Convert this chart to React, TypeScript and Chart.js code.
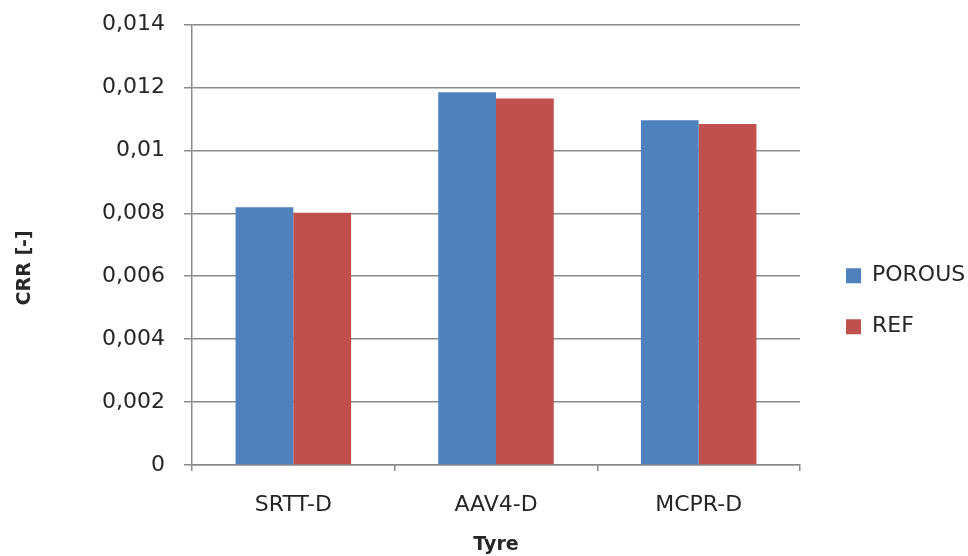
import React, { useEffect, useRef } from "react";
import { Chart, registerables } from "chart.js";

Chart.register(...registerables);

// Tyres tested and rolling resistance coefficients per surface
const tyres = ["SRTT-D", "AAV4-D", "MCPR-D"];
const porous = [0.00819, 0.01185, 0.01096];
const ref = [0.00802, 0.01165, 0.01084];

const seriesNames = ["POROUS", "REF"];
const seriesColors = ["#4F81BD", "#C0504D"];

const yMin = 0;
const yMax = 0.014;
const yStep = 0.002;

const xTitle = "Tyre";
const yTitle = "CRR [-]";

const FONT = "'DejaVu Sans', sans-serif";
const TEXT = "#262626";
const GRID = "#8a8a8a";

// nudges the right-hand legend block next to the plot
const legendOffset = {
  id: "legendOffset",
  afterLayout(chart: any) {
    const lg = chart.legend;
    if (!lg) return;
    lg.left += 17;
    lg.right += 17;
    lg.top += 11;
    lg.bottom += 11;
  },
};

const formatTick = (v: number) =>
  parseFloat(Number(v).toFixed(3)).toString().replace(".", ",");

export default function App() {
  const canvasRef = useRef<HTMLCanvasElement | null>(null);

  useEffect(() => {
    if (!canvasRef.current) return;
    const chart = new Chart(canvasRef.current, {
      type: "bar",
      data: {
        labels: tyres,
        datasets: [
          {
            label: seriesNames[0],
            data: porous,
            backgroundColor: seriesColors[0],
            borderWidth: 0,
          },
          {
            label: seriesNames[1],
            data: ref,
            backgroundColor: seriesColors[1],
            borderWidth: 0,
          },
        ],
      },
      options: {
        animation: false,
        responsive: true,
        maintainAspectRatio: false,
        layout: { padding: { top: 24.5, right: 18, bottom: 0, left: 0 } },
        datasets: {
          bar: { categoryPercentage: 0.57, barPercentage: 1.0 },
        },
        plugins: {
          tooltip: { enabled: false },
          legend: {
            position: "right",
            maxWidth: 150,
            labels: {
              boxWidth: 15,
              boxHeight: 15,
              padding: 29,
              color: TEXT,
              font: { family: FONT, size: 22 },
            },
          },
        },
        scales: {
          x: {
            afterFit: (s: any) => {
              s.height = 91;
            },
            grid: {
              display: true,
              drawOnChartArea: false,
              drawTicks: true,
              tickLength: 6,
              color: GRID,
              lineWidth: 1.5,
            },
            border: { display: true, color: GRID, width: 1.5 },
            ticks: {
              color: TEXT,
              padding: 21,
              font: { family: FONT, size: 22 },
            },
            title: {
              display: true,
              text: xTitle,
              color: TEXT,
              padding: { top: 0, bottom: 0 },
              font: { family: FONT, size: 19, weight: "bold" },
            },
          },
          y: {
            min: yMin,
            max: yMax,
            afterFit: (s: any) => {
              s.width = 192;
              s.paddingTop = 0;
              s.paddingBottom = 0;
            },
            grid: {
              color: GRID,
              lineWidth: 1.5,
              drawTicks: true,
              tickLength: 8,
            },
            border: { display: true, color: GRID, width: 1.5 },
            ticks: {
              stepSize: yStep,
              color: TEXT,
              padding: 19,
              font: { family: FONT, size: 22 },
              callback: (v: any) => formatTick(v),
            },
            title: {
              display: true,
              text: yTitle + "\u00A0".repeat(7),
              color: TEXT,
              padding: { top: 14, bottom: 0 },
              font: { family: FONT, size: 19, weight: "bold" },
            },
          },
        },
      },
      plugins: [legendOffset],
    });
    return () => chart.destroy();
  }, []);

  return (
    <div
      style={{
        position: "absolute",
        left: 0,
        top: 0,
        width: 968,
        height: 556,
        background: "#ffffff",
      }}
    >
      <canvas ref={canvasRef} />
    </div>
  );
}
